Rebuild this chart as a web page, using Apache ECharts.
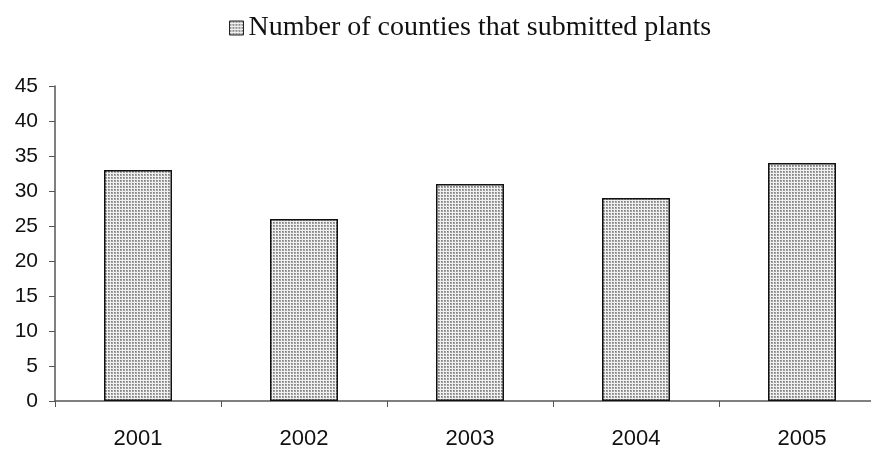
<!DOCTYPE html>
<html>
<head>
<meta charset="utf-8">
<script src="https://cdn.jsdelivr.net/npm/echarts@6/dist/echarts.min.js"></script>
<style>
  html, body { margin: 0; padding: 0; background: #fff; }
  #chart { width: 871px; height: 450px; }
</style>
</head>
<body>
<div id="chart"></div>
<script>
// Yearly counts of counties submitting plants
const years = ['2001', '2002', '2003', '2004', '2005'];
const counties = [33, 26, 31, 29, 34];
const yTicks = { min: 0, max: 45, interval: 5 };
const seriesName = 'Number of counties that submitted plants';

// Fine dotted fill tile for the bars
function dotTile() {
  const c = document.createElement('canvas');
  c.width = 3; c.height = 3;
  const g = c.getContext('2d');
  g.fillStyle = '#f0f0f0';
  g.fillRect(0, 0, 3, 3);
  g.fillStyle = '#a2a2a2';
  g.fillRect(0, 0, 2, 2);
  g.fillStyle = '#7e7e7e';
  g.fillRect(0, 0, 1, 1);
  return c;
}
const fill = { image: dotTile(), repeat: 'repeat' };

const chart = echarts.init(document.getElementById('chart'), null, { renderer: 'canvas' });
chart.setOption({
  animation: false,
  backgroundColor: '#fff',
  legend: {
    top: 9,
    left: 224,
    itemWidth: 14,
    itemHeight: 14,
    itemGap: 10,
    textStyle: { fontFamily: 'Liberation Serif', fontSize: 28, color: '#111' },
    data: [{ name: seriesName, icon: 'rect', itemStyle: { color: fill, borderColor: '#222', borderWidth: 1 } }]
  },
  grid: { left: 55, right: -14, top: 86, bottom: 49, containLabel: false, outerBoundsMode: 'none' },
  xAxis: {
    type: 'category',
    data: years,
    axisLine: { lineStyle: { color: '#555', width: 1.5 } },
    axisTick: { show: true, length: 6, inside: false, alignWithLabel: false, lineStyle: { color: '#555' } },
    axisLabel: { fontFamily: 'Liberation Sans', fontSize: 22, color: '#111', margin: 27 }
  },
  yAxis: {
    type: 'value',
    min: yTicks.min, max: yTicks.max, interval: yTicks.interval,
    splitLine: { show: false },
    axisLine: { show: true, lineStyle: { color: '#555', width: 1.5 } },
    axisTick: { show: true, length: 6, lineStyle: { color: '#555' } },
    axisLabel: { fontFamily: 'Liberation Sans', fontSize: 21, color: '#111', margin: 17 }
  },
  series: [{
    name: seriesName,
    type: 'bar',
    data: counties,
    barWidth: 68,
    itemStyle: { color: fill, borderColor: '#111', borderWidth: 1.5 }
  }]
});
</script>
</body>
</html>
